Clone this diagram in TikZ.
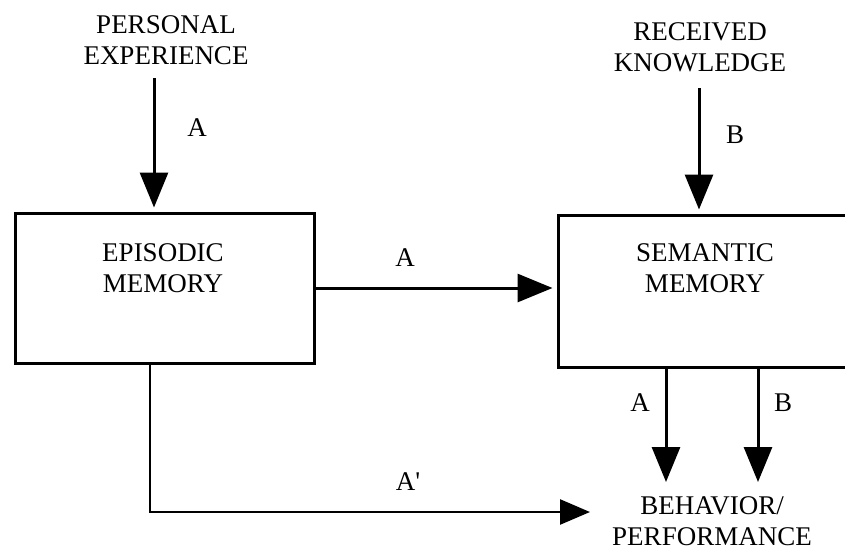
\documentclass[tikz,border=0pt]{standalone}
\usepackage{fontspec}
\setmainfont{Liberation Serif}
\usetikzlibrary{arrows.meta,positioning}
\begin{document}
\begin{tikzpicture}[x=1pt,y=-1pt, box/.style={draw,line width=3pt,inner sep=0pt},
  txt/.style={align=center,inner sep=0pt,font=\fontsize{27}{31}\selectfont},
  arr/.style={line width=3pt,shorten >=4pt,-{Triangle[length=35pt,width=28pt]}}]
              \useasboundingbox (0,0) rectangle (845,552);
              \node[box,minimum width=299pt,minimum height=150pt] (epi) at (164.5,288) {};
              \node[box,minimum width=310pt,minimum height=152pt] (sem) at (713,291) {};

              \node[txt] (epilbl) at (163,268) {EPISODIC\\MEMORY};
              \node[txt] (semlbl) at (705,268) {SEMANTIC\\MEMORY};
              \node[txt] (pers) at (166,40) {PERSONAL\\EXPERIENCE};
              \node[txt] (recv) at (700,47) {RECEIVED\\KNOWLEDGE};
              \node[txt] (beh) at (712,521) {BEHAVIOR/\\PERFORMANCE};

              \coordinate (pe) at (154,78);
              \coordinate (rk) at (699,88);
              \coordinate (ta) at (666,486);
              \coordinate (tb) at (758,486);
              \coordinate (el) at (150,512);
              \coordinate (tl) at (590,512);

              \draw[arr] (pe) -- (pe |- epi.north);
              \draw[arr] (rk) -- (rk |- sem.north);
              \draw[arr] (epi.east) -- (epi.east -| sem.west);
              \draw[arr] (ta |- sem.south) -- (ta);
              \draw[arr] (tb |- sem.south) -- (tb);
              \draw[line width=2.5pt,-{Triangle[length=30pt,width=25pt]}] (el |- epi.south) -- (el) -- (tl);

              \node[txt] (la) at (197,128) {A};
              \node[txt] (lb) at (735,135) {B};
              \node[txt] (lm) at (405,258) {A};
              \node[txt] (lsa) at (640,403) {A};
              \node[txt] (lsb) at (783,403) {B};
              \node[txt] (lp) at (408,482) {A\textquotesingle};
            \end{tikzpicture}
\end{document}
